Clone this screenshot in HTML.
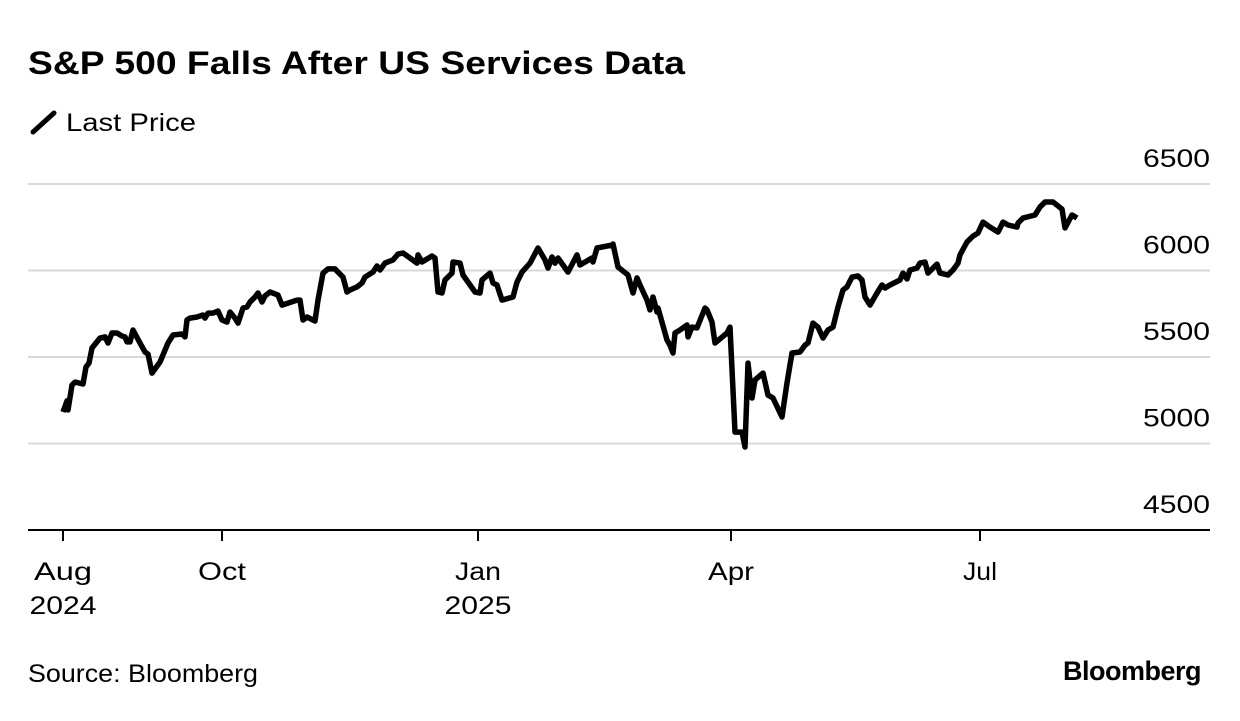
<!DOCTYPE html>
<html><head><meta charset="utf-8"><style>
body{margin:0;background:#fff;width:1240px;height:716px;overflow:hidden;font-family:"Liberation Sans",sans-serif;}
</style></head><body>
<svg width="1240" height="716" xmlns="http://www.w3.org/2000/svg">
<text x="28" y="74" font-size="32" font-weight="bold" fill="#000" textLength="657" lengthAdjust="spacingAndGlyphs">S&amp;P 500 Falls After US Services Data</text>
<line x1="33" y1="132" x2="54" y2="113" stroke="#000" stroke-width="5" stroke-linecap="round"/>
<text x="66" y="131" font-size="25" fill="#000" textLength="130" lengthAdjust="spacingAndGlyphs">Last Price</text>
<g id="grid"></g><g id="axes"></g>
<path id="line" fill="none" stroke="#000" stroke-width="5.5" stroke-linejoin="round"/>
<text x="28" y="682" font-size="25" fill="#000" textLength="230" lengthAdjust="spacingAndGlyphs">Source: Bloomberg</text>
<text x="1201" y="680" font-size="27" font-weight="bold" fill="#000" text-anchor="end" letter-spacing="-0.5">Bloomberg</text>
</svg>
<script>
const days=[0,1,1.25,2.25,3,5,5.75,6.5,7.25,9.25,10.5,11.25,12.25,13.5,14.75,15.5,16,16.75,17.5,19.25,20.5,21.25,22.25,24.25,25,26.25,27.5,29.75,30.5,31,31.75,33.5,35,35.5,36.25,37.5,38.75,39.75,41,41.75,43,43.75,45,46,46.75,48,48.75,49.75,50.5,51.75,53.75,54.75,55.5,58.5,59.25,60,61,63,63.75,65,66.25,68,68.75,70,71,71.75,73.5,74.75,75.5,77.5,78.5,79.25,80.5,82.5,83.75,85,86.75,88.5,88.75,89.75,92.25,93,93.75,94.75,95.5,97.25,97.5,99.25,100,103,104.25,104.75,106.75,107.5,108.5,109.75,112.5,113.5,114.75,116.75,118.75,120.5,121.25,122.25,123,123.75,126.25,128.5,129.25,132.25,132.5,133.5,137.25,137.5,138.75,141.25,142.5,143.5,144.25,146,146.75,147.5,148.5,148.75,151,151.75,152.5,153,154.25,156,156.25,157.25,158.5,160.5,161,162.25,163,166,166.75,168,169.75,170.5,171.25,172.25,173,175,176.25,177.5,179.75,181,182.25,184.25,185.5,186.25,187.5,188.75,190,191.25,192.5,193.75,195,196,197.25,198.75,199.75,200.5,201.75,203.5,204.75,205.5,206.75,209.25,210,211,211.75,213.5,214.25,215.5,216.25,218.5,219.25,221.25,222.5,223.75,224.25,226,227.5,228.75,230,231.75,233.75,235,236.25,238.5,238.75,240,243,244.25,245.5,247.5,249.75,250.5,252.25,253.5];
const prices=[5182,5246,5194,5338,5355,5344,5442,5465,5552,5610,5616,5581,5639,5639,5621,5616,5587,5587,5656,5581,5529,5517,5407,5471,5512,5581,5627,5633,5616,5714,5725,5731,5743,5725,5754,5754,5766,5714,5702,5760,5725,5696,5783,5789,5818,5847,5870,5818,5853,5876,5858,5800,5806,5829,5829,5714,5731,5708,5829,5985,6009,6009,5991,5962,5876,5887,5905,5928,5962,5991,6026,6003,6043,6061,6095,6101,6072,6043,6090,6049,6084,6072,5876,5870,5945,5985,6049,6043,5974,5876,5870,5945,5985,5928,5916,5829,5847,5933,5991,6043,6130,6061,6014,6078,6043,6072,5991,6090,6032,6072,6049,6130,6147,6153,6020,5974,5870,5957,5916,5829,5772,5847,5760,5783,5598,5569,5523,5639,5656,5685,5616,5673,5668,5783,5772,5702,5581,5639,5673,5066,5066,4980,5465,5263,5367,5407,5280,5263,5153,5350,5523,5529,5569,5581,5696,5673,5610,5656,5673,5789,5887,5905,5962,5968,5945,5847,5800,5870,5916,5899,5916,5945,5985,5951,6003,6014,6043,6049,5985,6037,5985,5974,6003,6043,6090,6165,6199,6217,6280,6251,6222,6280,6263,6251,6274,6303,6321,6367,6396,6396,6355,6246,6321,6303];
const yTicks=[4500,5000,5500,6000,6500];
const xTickLabels=["Aug","Oct","Jan","Apr","Jul"];
const xTickYears=["2024","","2025","",""];
const xTickDays=[0,39.75,103.75,167,229.25];
const X=t=>63+t*4.0;
const Y=v=>530-(v-4500)*86.5/500;
const NS="http://www.w3.org/2000/svg";
const grid=document.getElementById('grid'),axes=document.getElementById('axes');
function mk(tag,attrs,parent,txt){const e=document.createElementNS(NS,tag);for(const k in attrs)e.setAttribute(k,attrs[k]);if(txt!==undefined)e.textContent=txt;parent.appendChild(e);return e;}
const labelW={Aug:58,Oct:48,Jan:46,Apr:46,Jul:34};
yTicks.forEach(v=>{
 if(v>4500){const l=mk('line',{x1:28,x2:1210,y1:Y(v),y2:Y(v),stroke:'#d9d9d9','stroke-width':2},grid);
 
 }
 const t=mk('text',{x:1210,y:Y(v)-17,'font-size':25,'text-anchor':'end',fill:'#000',textLength:67,lengthAdjust:'spacingAndGlyphs'},axes,String(v));
 
 
});
const base=mk('line',{x1:28,x2:1210,y1:530,y2:530,stroke:'#000','stroke-width':2},axes);


xTickDays.forEach((d,i)=>{
 const tk=mk('line',{x1:X(d),x2:X(d),y1:530,y2:541,stroke:'#000','stroke-width':2},axes);
 
 
 const t=mk('text',{x:X(d),y:580,'font-size':25,'text-anchor':'middle',fill:'#000',textLength:labelW[xTickLabels[i]]||50,lengthAdjust:'spacingAndGlyphs'},axes,xTickLabels[i]);
 
 
 if(xTickYears[i]){const y=mk('text',{x:X(d),y:614,'font-size':25,'text-anchor':'middle',fill:'#000',textLength:67,lengthAdjust:'spacingAndGlyphs'},axes,xTickYears[i]);
 
 }
});
document.getElementById('line').setAttribute('d',days.map((d,i)=>(i?'L':'M')+X(d).toFixed(1)+','+Y(prices[i]).toFixed(1)).join(''));
</script>
</body></html>
